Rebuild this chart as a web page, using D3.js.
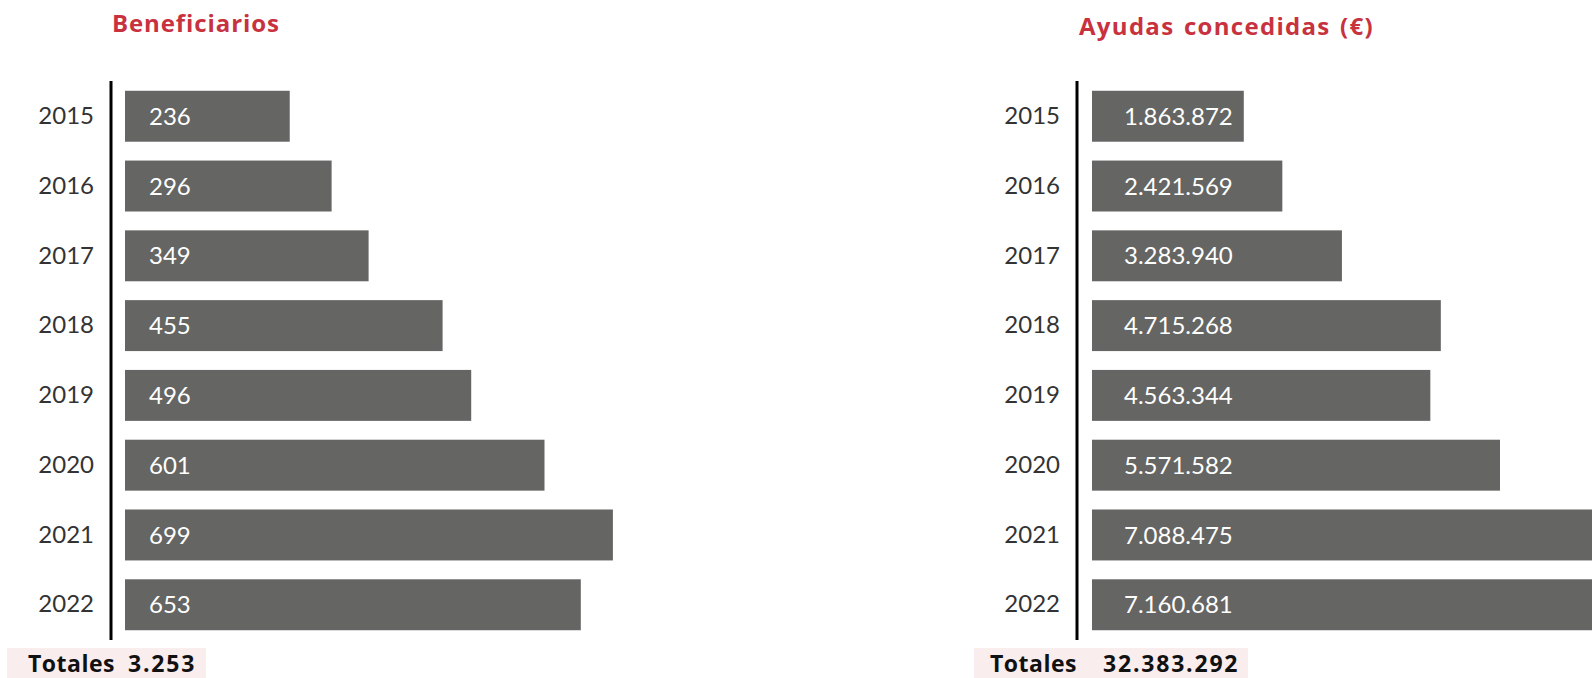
<!DOCTYPE html>
<html>
<head>
<meta charset="utf-8">
<script src="https://cdn.jsdelivr.net/npm/d3@7"></script>
<style>
  body { margin: 0; background: #fff; }
  svg { display: block; font-family: Lato, "Open Sans", sans-serif; }
  .bold { font-family: "Open Sans", Lato, sans-serif; font-weight: 700; }
</style>
</head>
<body>
<svg id="chart"></svg>
<script>
const years = ["2015", "2016", "2017", "2018", "2019", "2020", "2021", "2022"];
const beneficiarios = [236, 296, 349, 455, 496, 601, 699, 653];
const ayudas = [1863872, 2421569, 3283940, 4715268, 4563344, 5571582, 7088475, 7160681];
const totalBeneficiarios = 3253;
const totalAyudas = 32383292;

const width = 1592, height = 678;
const barColor = "#656563";
const titleColor = "#c8323f";

const es = d3.formatLocale({ decimal: ",", thousands: ".", grouping: [3], currency: ["", "€"] });
const fmt = es.format(",d");

const svg = d3.select("#chart")
    .attr("width", width)
    .attr("height", height);

// shared vertical band scale
const y = d3.scaleBand()
    .domain(years)
    .range([81, 640])
    .paddingInner(0.27)
    .paddingOuter(0.14);

function drawPanel(cfg) {
    const g = svg.append("g");

    g.append("text")
        .attr("class", "bold")
        .attr("x", cfg.titleX)
        .attr("y", cfg.titleY)
        .attr("fill", titleColor)
        .attr("font-size", 24)
        .attr("letter-spacing", cfg.titleSpacing)
        .attr("word-spacing", 2)
        .text(cfg.title);

    g.selectAll("rect.bar")
        .data(cfg.values)
        .join("rect")
        .attr("class", "bar")
        .attr("x", cfg.barStart)
        .attr("y", (d, i) => y(years[i]))
        .attr("width", d => cfg.x(d) - cfg.barStart)
        .attr("height", y.bandwidth())
        .attr("fill", barColor);

    g.selectAll("text.val")
        .data(cfg.values)
        .join("text")
        .attr("class", "val")
        .attr("x", cfg.barStart + cfg.labelPad)
        .attr("y", (d, i) => y(years[i]) + y.bandwidth() / 2)
        .attr("dy", "0.36em")
        .attr("fill", "#fff")
        .attr("font-size", 24)
        .text(d => fmt(d));

    // year axis
    const axis = g.append("g")
        .attr("transform", `translate(${cfg.axisX},0)`)
        .call(d3.axisLeft(y).tickSize(0).tickPadding(17));
    axis.select(".domain")
        .attr("d", `M0,${y.range()[0]}V${y.range()[1]}`)
        .attr("stroke", "#000")
        .attr("stroke-width", 3);
    axis.selectAll(".tick text")
        .attr("font-size", 24)
        .attr("font-family", "Lato, 'Open Sans', sans-serif")
        .attr("fill", "#333");

    // totals box (cut by the bottom edge, as in the original)
    const tg = g.append("g");
    tg.append("rect")
        .attr("x", cfg.totBox[0])
        .attr("y", 648)
        .attr("width", cfg.totBox[1] - cfg.totBox[0])
        .attr("height", 40)
        .attr("fill", "#f9eded");
    tg.append("text")
        .attr("class", "bold")
        .attr("x", cfg.totBox[0] + cfg.totPad)
        .attr("y", 672)
        .attr("font-size", 23)
        .attr("letter-spacing", 0.5)
        .attr("fill", "#111")
        .text("Totales");
    tg.append("text")
        .attr("class", "bold")
        .attr("x", cfg.totValX)
        .attr("y", 672)
        .attr("font-size", 23)
        .attr("letter-spacing", 1.8)
        .attr("fill", "#111")
        .text(fmt(cfg.total));
}

drawPanel({
    title: "Beneficiarios",
    titleX: 112, titleY: 32, titleSpacing: 0.9,
    values: beneficiarios,
    x: d3.scaleLinear().domain([0, 700]).range([125, 613.6]),
    barStart: 125,
    labelPad: 24,
    axisX: 111,
    totBox: [7, 206], totPad: 21, totValX: 128,
    total: totalBeneficiarios
});

drawPanel({
    title: "Ayudas concedidas (€)",
    titleX: 1079, titleY: 35, titleSpacing: 1.3,
    values: ayudas,
    x: d3.scaleLinear().domain([0, 8000000]).range([1115, 1667.8]),
    barStart: 1092,
    labelPad: 32,
    axisX: 1077,
    totBox: [974, 1248], totPad: 16, totValX: 1103,
    total: totalAyudas
});
</script>
</body>
</html>
